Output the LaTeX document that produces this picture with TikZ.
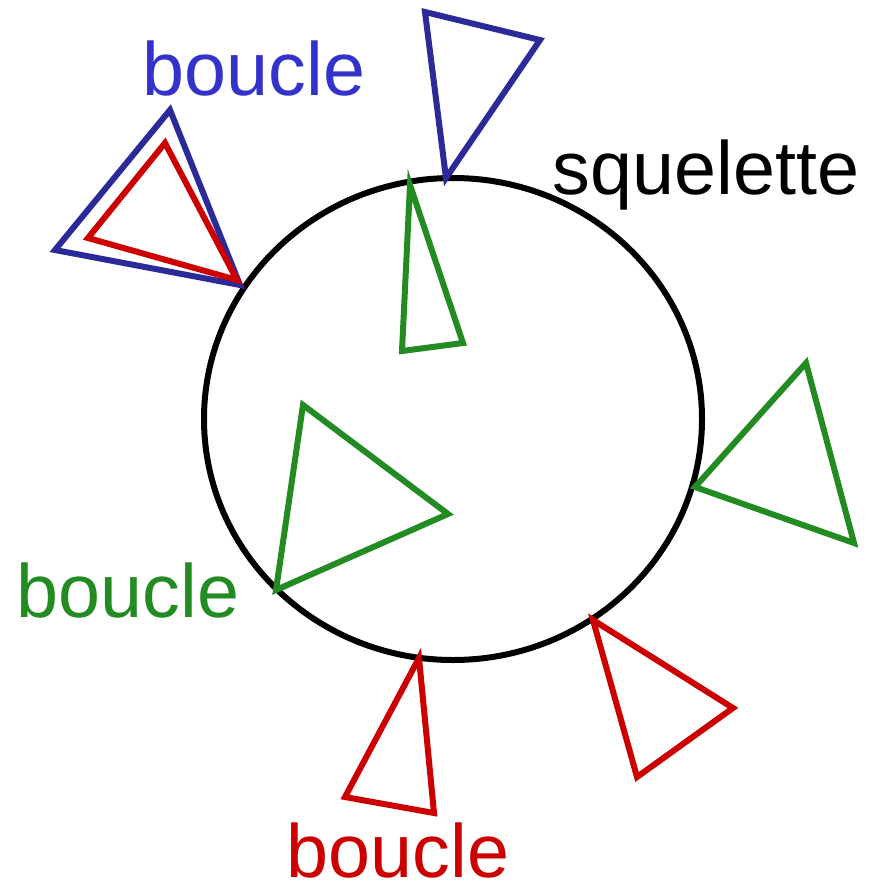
\documentclass[tikz,border=0pt]{standalone}
\usepackage{fontspec}
\setmainfont{Liberation Sans}
\usetikzlibrary{shapes.geometric}
\definecolor{tblue}{RGB}{42,42,152}
\definecolor{lblue}{RGB}{51,51,204}
\definecolor{tred}{RGB}{204,0,0}
\definecolor{tgreen}{RGB}{34,139,34}
\tikzset{
  tri/.style={line width=6pt, line join=miter},
  lbl/.style={font=\fontsize{75.5}{80}\selectfont, inner sep=0pt},
}
\begin{document}
\begin{tikzpicture}[x=1pt, y=-1pt]
\useasboundingbox (0,0) rectangle (870,886);
\node(S) [draw, line width=6pt, ellipse, minimum width=498pt, minimum height=482pt, inner sep=0pt] at (453,419) {};

\draw[tri, tblue] (425,12) -- (540,40) -- (446,178) -- cycle;
\draw[tri, tblue] (170,110) -- (55,250) -- (240,285) -- cycle;
\draw[tri, tred] (165,143) -- (88,238) -- (237,280) -- cycle;
\draw[tri, tgreen] (410,185) -- (463,343) -- (402,351) -- cycle;
\draw[tri, tgreen] (806,363) -- (854,543) -- (695,487) -- cycle;
\draw[tri, tgreen] (303,405) -- (448,514) -- (276,590) -- cycle;
\draw[tri, tred] (593,620) -- (733,708) -- (637,777) -- cycle;
\draw[tri, tred] (419,658) -- (434,813) -- (345,797) -- cycle;

\node(B1) [lbl, text=lblue] at (254,69) {boucle};
\node(Q) [lbl] at (706,175) {squelette};
\node(B2) [lbl, text=tgreen] at (128,591) {boucle};
\node(B3) [lbl, text=tred] at (398,851) {boucle};
\end{tikzpicture}
\end{document}
